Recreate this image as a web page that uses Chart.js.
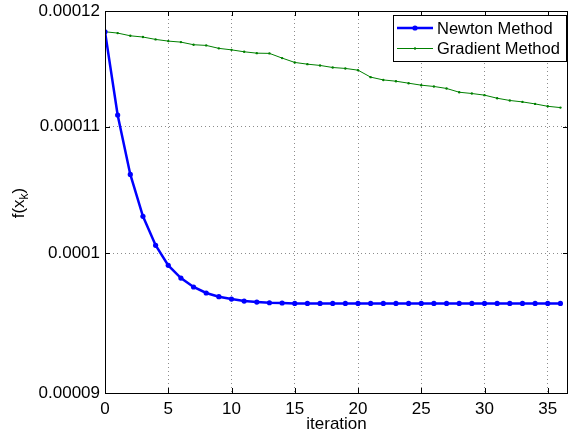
<!DOCTYPE html>
<html>
<head>
<meta charset="utf-8">
<script src="https://cdn.jsdelivr.net/npm/chart.js@4/dist/chart.umd.min.js"></script>
<style>
  html, body { margin: 0; padding: 0; background: #fff; }
</style>
</head>
<body>
<canvas id="grafico" width="569" height="440"></canvas>
<script>
const iteraciones = [0, 1, 2, 3, 4, 5, 6, 7, 8, 9, 10, 11, 12, 13, 14, 15, 16, 17, 18,
  19, 20, 21, 22, 23, 24, 25, 26, 27, 28, 29, 30, 31, 32, 33, 34, 35, 36];

const newton = [1.1814e-4, 1.1096e-4, 1.0610e-4, 1.0281e-4, 1.0059e-4, 9.908e-5, 9.814e-5,
  9.748e-5, 9.704e-5, 9.677e-5, 9.660e-5, 9.645e-5, 9.638e-5, 9.633e-5, 9.631e-5,
  9.628e-5, 9.628e-5, 9.628e-5, 9.628e-5, 9.628e-5, 9.628e-5, 9.628e-5, 9.628e-5,
  9.628e-5, 9.628e-5, 9.628e-5, 9.628e-5, 9.628e-5, 9.628e-5, 9.628e-5, 9.628e-5,
  9.628e-5, 9.628e-5, 9.628e-5, 9.628e-5, 9.628e-5, 9.628e-5];

const gradiente = [1.1814e-4, 1.1802e-4, 1.1778e-4, 1.1767e-4, 1.1746e-4, 1.1731e-4,
  1.1722e-4, 1.1699e-4, 1.1693e-4, 1.1667e-4, 1.1654e-4, 1.1637e-4, 1.1625e-4,
  1.1623e-4, 1.1582e-4, 1.1544e-4, 1.1529e-4, 1.1518e-4, 1.1500e-4, 1.1492e-4,
  1.1477e-4, 1.1417e-4, 1.1393e-4, 1.1382e-4, 1.1365e-4, 1.1348e-4, 1.1337e-4,
  1.1320e-4, 1.1288e-4, 1.1277e-4, 1.1263e-4, 1.1237e-4, 1.1218e-4, 1.1206e-4,
  1.1189e-4, 1.1169e-4, 1.1158e-4];

const xTicks = [0, 5, 10, 15, 20, 25, 30, 35];
const yTicks = [9e-5, 1e-4, 1.1e-4, 1.2e-4];
const yTickLabels = ['0.00009', '0.0001', '0.00011', '0.00012'];

const fuente = "'Liberation Sans', Arial, sans-serif";
Chart.defaults.font.family = fuente;
Chart.defaults.color = '#000';

const puntos = serie => iteraciones.map((it, i) => ({ x: it, y: serie[i] }));

// marco cerrado, marcas hacia adentro, leyenda y etiqueta del eje y
const marco = {
  id: 'marco',
  afterDraw(chart) {
    const { ctx, chartArea: a, scales } = chart;
    ctx.save();
    ctx.strokeStyle = '#000';
    ctx.lineWidth = 1;
    ctx.strokeRect(Math.round(a.left) + 0.5, Math.round(a.top) + 0.5,
      Math.round(a.right - a.left) - 1, Math.round(a.bottom - a.top));

    ctx.beginPath();
    xTicks.forEach(v => {
      const px = Math.round(scales.x.getPixelForValue(v)) + 0.5;
      ctx.moveTo(px, a.bottom); ctx.lineTo(px, a.bottom - 5);
      ctx.moveTo(px, a.top); ctx.lineTo(px, a.top + 5);
    });
    yTicks.forEach(v => {
      const py = Math.round(scales.y.getPixelForValue(v)) + 0.5;
      ctx.moveTo(a.left, py); ctx.lineTo(a.left + 5, py);
      ctx.moveTo(a.right, py); ctx.lineTo(a.right - 5, py);
    });
    ctx.stroke();

    // leyenda
    const lx = 393, ly = 15, lw = 173, lh = 46;
    ctx.fillStyle = '#fff';
    ctx.fillRect(lx, ly, lw, lh);
    ctx.strokeRect(lx + 0.5, ly + 0.5, lw, lh);
    ctx.font = '16.5px ' + fuente;
    ctx.textBaseline = 'middle';
    chart.data.datasets.forEach((ds, i) => {
      const y = ly + 13 + i * 20.5;
      ctx.strokeStyle = ds.borderColor;
      ctx.lineWidth = ds.borderWidth;
      ctx.beginPath(); ctx.moveTo(397, y); ctx.lineTo(433, y); ctx.stroke();
      ctx.fillStyle = ds.borderColor;
      ctx.beginPath(); ctx.arc(415, y, ds.pointRadius, 0, Math.PI * 2); ctx.fill();
      ctx.fillStyle = '#000';
      ctx.fillText(ds.label, 437, y + 1);
    });

    // f(x_k)
    ctx.translate(19, 203);
    ctx.rotate(-Math.PI / 2);
    ctx.font = '17px ' + fuente;
    const w1 = ctx.measureText('f(x').width;
    const w3 = ctx.measureText(')').width;
    ctx.font = '12px ' + fuente;
    const w2 = ctx.measureText('k').width;
    let x0 = -(w1 + w2 + w3) / 2;
    ctx.fillStyle = '#000';
    ctx.textBaseline = 'middle';
    ctx.font = '17px ' + fuente;
    ctx.fillText('f(x', x0, 0);
    ctx.font = '12px ' + fuente;
    ctx.fillText('k', x0 + w1, 6);
    ctx.font = '17px ' + fuente;
    ctx.fillText(')', x0 + w1 + w2, 0);
    ctx.restore();
  }
};

const rejilla = { color: '#8c8c8c', drawTicks: false, lineWidth: 1 };

new Chart(document.getElementById('grafico'), {
  type: 'line',
  data: {
    datasets: [{
      label: 'Newton Method',
      data: puntos(newton),
      borderColor: '#0000ff',
      backgroundColor: '#0000ff',
      borderWidth: 2.5,
      pointRadius: 2.6,
      pointBorderWidth: 0,
      tension: 0
    }, {
      label: 'Gradient Method',
      data: puntos(gradiente),
      borderColor: '#008000',
      backgroundColor: '#008000',
      borderWidth: 1,
      pointRadius: 1.2,
      pointBorderWidth: 0,
      tension: 0
    }]
  },
  options: {
    responsive: false,
    animation: false,
    layout: { autoPadding: false, padding: { top: 11, right: 1, left: 0, bottom: 0 } },
    plugins: { legend: { display: false }, tooltip: { enabled: false } },
    scales: {
      x: {
        type: 'linear',
        min: 0,
        max: 36.6,
        afterBuildTicks: s => { s.ticks = xTicks.map(v => ({ value: v })); },
        afterFit: s => { s.height = 47; s.paddingLeft = 0; s.paddingRight = 0; },
        ticks: { padding: 6, font: { size: 17 }, maxRotation: 0, autoSkip: false },
        grid: rejilla,
        border: { display: false, dash: [1, 3] },
        title: { display: true, text: 'iteration', font: { size: 17 }, padding: { top: 0, bottom: 5 } }
      },
      y: {
        type: 'logarithmic',
        min: 9e-5,
        max: 1.2e-4,
        afterBuildTicks: s => { s.ticks = yTicks.map(v => ({ value: v })); },
        afterFit: s => { s.width = 105; s.paddingTop = 0; s.paddingBottom = 0; },
        ticks: { padding: 5, font: { size: 17 }, callback: (v, i) => yTickLabels[i] },
        grid: rejilla,
        border: { display: false, dash: [1, 3] }
      }
    }
  },
  plugins: [marco]
});
</script>
</body>
</html>
